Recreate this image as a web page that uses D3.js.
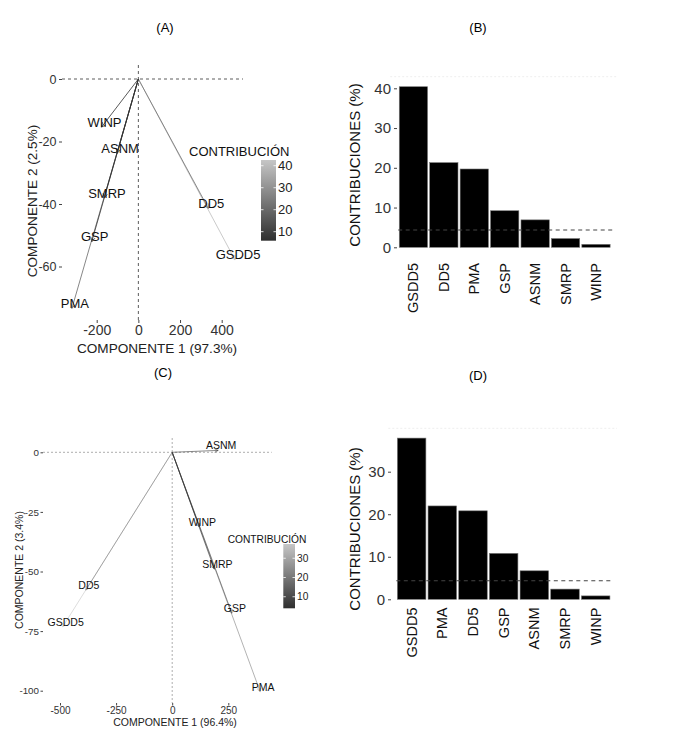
<!DOCTYPE html>
<html lang="es">
<head>
<meta charset="UTF-8">
<title>Contribuciones de variables (ACP)</title>
<script src="https://d3js.org/d3.v7.min.js"></script>
<style>
    body { margin: 0; background: #fff; }
    svg { display: block; font-family: "Liberation Sans", Arial, sans-serif; }
    .domain { display: none; }
</style>
</head>
<body>
<svg width="683" height="743"></svg>
<script>
    // ---- datos ----
    // (A) biplot de variables, primer conjunto
    const varsA = ["GSDD5", "DD5", "PMA", "GSP", "ASNM", "SMRP", "WINP"];
    const pc1A = [464, 336, -319, -224, -102, -165, -177];
    const pc2A = [-57.9, -41.4, -73.4, -52.1, -23.8, -38.1, -15.4];
    const legendA = [5.9, 42.6];
    const legendTicksA = [10, 20, 30, 40];

    // (B) contribuciones, primer conjunto
    const barVarsB = ["GSDD5", "DD5", "PMA", "GSP", "ASNM", "SMRP", "WINP"];
    const barValsB = [40.4, 21.3, 19.7, 9.2, 6.9, 2.2, 0.75];
    const expectedB = 4.35;

    // (C) biplot de variables, segundo conjunto
    const varsC = ["GSDD5", "DD5", "PMA", "GSP", "ASNM", "SMRP", "WINP"];
    const pc1C = [-488, -385, 392, 266, 205, 188, 121];
    const pc2C = [-73.2, -57.8, -100.4, -67.5, 0.8, -49, -31.3];
    const legendC = [4.0, 37.4];
    const legendTicksC = [10, 20, 30];

    // (D) contribuciones, segundo conjunto
    const barVarsD = ["GSDD5", "PMA", "DD5", "GSP", "ASNM", "SMRP", "WINP"];
    const barValsD = [37.9, 21.95, 20.8, 10.8, 6.7, 2.4, 0.8];
    const expectedD = 4.37;

    const svg = d3.select("svg");
    const plainNum = d => String(d);   // guion normal, no el signo menos unicode

    // títulos de los paneles
    [["(A)", 165, 32], ["(B)", 478, 32], ["(C)", 163, 377], ["(D)", 478, 380]].forEach(t => {
        svg.append("text").attr("x", t[1]).attr("y", t[2])
            .attr("text-anchor", "middle").attr("font-size", 13).text(t[0]);
    });

    let gradId = 0;

    function biplot(o) {
        const g = svg.append("g");
        const x = d3.scaleLinear().domain(o.xDomain).range(o.xRange);
        const y = d3.scaleLinear().domain(o.yDomain).range(o.yRange);
        const color = d3.scaleLinear().domain(o.legendDomain)
            .range(["#2f2f2f", "#c6c6c6"]).clamp(true);
        const contribOf = new Map(o.barVars.map((v, i) => [v, o.barVals[i]]));

        // líneas de referencia
        g.append("line")
            .attr("x1", o.panel.left).attr("x2", o.panel.right)
            .attr("y1", y(0)).attr("y2", y(0))
            .attr("stroke", o.refColor).attr("stroke-width", 0.8)
            .attr("stroke-dasharray", o.refDash);
        g.append("line")
            .attr("x1", x(0)).attr("x2", x(0))
            .attr("y1", o.panel.top).attr("y2", o.panel.bottom)
            .attr("stroke", o.refColor).attr("stroke-width", 0.8)
            .attr("stroke-dasharray", o.refDash);

        // ejes
        const ax = g.append("g")
            .attr("transform", `translate(0,${o.panel.bottom})`)
            .call(d3.axisBottom(x).tickValues(o.xTicks).tickFormat(plainNum)
                .tickSize(o.tick).tickPadding(o.tickPad));
        const ay = g.append("g")
            .attr("transform", `translate(${o.panel.left},0)`)
            .call(d3.axisLeft(y).tickValues(o.yTicks).tickFormat(plainNum)
                .tickSize(o.tick).tickPadding(o.tickPad));
        ax.selectAll("text").attr("font-size", o.xTickFont);
        ay.selectAll("text").attr("font-size", o.yTickFont);
        [ax, ay].forEach(a => {
            a.selectAll("text").attr("fill", "#333")
                .attr("font-family", "Liberation Sans, Arial, sans-serif");
            a.selectAll("line").attr("stroke", "#444");
        });

        // títulos de ejes
        g.append("text")
            .attr("x", o.xTitle[0]).attr("y", o.xTitle[1])
            .attr("text-anchor", "middle").attr("font-size", o.titleFont)
            .attr("fill", "#222").text(o.xLabel);
        g.append("text")
            .attr("transform", `translate(${o.yTitle[0]},${o.yTitle[1]}) rotate(-90)`)
            .attr("text-anchor", "middle").attr("font-size", o.titleFont)
            .attr("fill", "#222").text(o.yLabel);

        // flechas de las variables
        const x0 = x(0), y0 = y(0);
        o.vars.forEach((v, i) => {
            const x1 = x(o.pc1[i]), y1 = y(o.pc2[i]);
            const c = color(contribOf.get(v));
            const ang = Math.atan2(y1 - y0, x1 - x0);
            g.append("line")
                .attr("x1", x0).attr("y1", y0).attr("x2", x1).attr("y2", y1)
                .attr("stroke", c).attr("stroke-width", o.lineWidth);
            [-1, 1].forEach(s => {
                const a = ang + Math.PI + s * Math.PI / 7;
                g.append("line")
                    .attr("x1", x1).attr("y1", y1)
                    .attr("x2", x1 + o.head * Math.cos(a))
                    .attr("y2", y1 + o.head * Math.sin(a))
                    .attr("stroke", c).attr("stroke-width", o.lineWidth);
            });
            g.append("text")
                .attr("x", x1 + o.labelNudge[0]).attr("y", y1 + o.labelNudge[1])
                .attr("text-anchor", "middle").attr("font-size", o.labelFont)
                .attr("fill", "#111").text(v);
        });

        // leyenda de color
        const id = "grad" + (gradId++);
        const lg = svg.append("defs").append("linearGradient")
            .attr("id", id).attr("x1", 0).attr("x2", 0).attr("y1", 1).attr("y2", 0);
        lg.append("stop").attr("offset", "0%").attr("stop-color", color(o.legendDomain[0]));
        lg.append("stop").attr("offset", "100%").attr("stop-color", color(o.legendDomain[1]));
        const L = o.legend;
        const ly = d3.scaleLinear().domain(o.legendDomain).range([L.y + L.h, L.y]);
        g.append("text")
            .attr("x", L.titleX).attr("y", L.titleY)
            .attr("font-size", L.font).attr("fill", "#111").text("CONTRIBUCIÓN");
        g.append("rect")
            .attr("x", L.x).attr("y", L.y).attr("width", L.w).attr("height", L.h)
            .attr("fill", `url(#${id})`);
        o.legendTicks.forEach(t => {
            [L.x, L.x + L.w - 2.5].forEach(tx => {
                g.append("line")
                    .attr("x1", tx).attr("x2", tx + 2.5)
                    .attr("y1", ly(t)).attr("y2", ly(t))
                    .attr("stroke", "#fff").attr("stroke-width", 0.8);
            });
            g.append("text")
                .attr("x", L.x + L.w + 2).attr("y", ly(t))
                .attr("dy", "0.35em").attr("font-size", L.font)
                .attr("fill", "#222").text(t);
        });
    }

    function barplot(o) {
        const g = svg.append("g");
        const x = d3.scaleBand().domain(o.vars).range(o.xRange)
            .paddingInner(0.07).paddingOuter(0.035);
        const y = d3.scaleLinear().domain(o.yDomain).range(o.yRange);

        // línea tenue superior
        g.append("line")
            .attr("x1", o.xRange[0] - 8).attr("x2", o.xRange[1] + 6)
            .attr("y1", o.faintY).attr("y2", o.faintY)
            .attr("stroke", "#eeeeee").attr("stroke-width", 1)
            .attr("stroke-dasharray", "2,2");

        g.selectAll("rect.bar")
            .data(o.vals)
            .join("rect")
            .attr("class", "bar")
            .attr("x", (d, i) => x(o.vars[i]))
            .attr("width", x.bandwidth())
            .attr("y", d => y(d))
            .attr("height", d => y(0) - y(d))
            .attr("fill", "#000")
            .attr("stroke", "#777")
            .attr("stroke-width", 0.6);

        // valor esperado
        g.append("line")
            .attr("x1", o.xRange[0]).attr("x2", o.xRange[1] + 2)
            .attr("y1", y(o.expected)).attr("y2", y(o.expected))
            .attr("stroke", "#444").attr("stroke-width", 1.1)
            .attr("stroke-dasharray", "4,3.5");

        const ay = g.append("g")
            .attr("transform", `translate(${o.axisX},0)`)
            .call(d3.axisLeft(y).tickValues(o.yTicks).tickSize(3).tickPadding(3));
        ay.selectAll("text").attr("font-size", 15).attr("fill", "#333")
            .attr("font-family", "Liberation Sans, Arial, sans-serif");
        ay.selectAll("line").attr("stroke", "#444");

        o.vars.forEach(v => {
            g.append("text")
                .attr("transform", `translate(${x(v) + x.bandwidth() / 2},${o.labelTop}) rotate(-90)`)
                .attr("text-anchor", "end").attr("dy", "0.35em")
                .attr("font-size", 14.5).attr("fill", "#111").text(v);
        });

        g.append("text")
            .attr("transform", `translate(${o.yTitle[0]},${o.yTitle[1]}) rotate(-90)`)
            .attr("text-anchor", "middle").attr("dy", "0.35em")
            .attr("font-size", 15).attr("fill", "#111").text("CONTRIBUCIONES (%)");
    }

    biplot({
        vars: varsA, pc1: pc1A, pc2: pc2A, barVars: barVarsB, barVals: barValsB,
        xDomain: [-200, 400], xRange: [96.7, 221.7],
        yDomain: [0, -60], yRange: [79, 266.5],
        panel: { left: 62, right: 243, top: 65, bottom: 320 },
        xTicks: [-200, 0, 200, 400], yTicks: [0, -20, -40, -60],
        tick: 3, tickPad: 2.5, xTickFont: 14, yTickFont: 12.5, titleFont: 13.6,
        xLabel: "COMPONENTE 1 (97.3%)", yLabel: "COMPONENTE 2 (2.5%)",
        xTitle: [157, 353], yTitle: [37, 201],
        refColor: "#333", refDash: "3,3",
        lineWidth: 0.8, head: 5, labelFont: 13, labelNudge: [3, -0.5],
        legendDomain: legendA, legendTicks: legendTicksA,
        legend: { x: 261, y: 160, w: 15, h: 80.7, titleX: 189, titleY: 155.5, font: 13 }
    });

    biplot({
        vars: varsC, pc1: pc1C, pc2: pc2C, barVars: barVarsD, barVals: barValsD,
        xDomain: [-500, 250], xRange: [60, 228.3],
        yDomain: [0, -100], yRange: [452.3, 690.7],
        panel: { left: 43, right: 271.7, top: 438, bottom: 703 },
        xTicks: [-500, -250, 0, 250], yTicks: [0, -25, -50, -75, -100],
        tick: 2.5, tickPad: 1.5, xTickFont: 10, yTickFont: 9.8, titleFont: 10.5,
        xLabel: "COMPONENTE 1 (96.4%)", yLabel: "COMPONENTE 2 (3.4%)",
        xTitle: [175, 726], yTitle: [23, 570],
        refColor: "#999", refDash: "2,2",
        lineWidth: 0.6, head: 4, labelFont: 10.5, labelNudge: [3, -1],
        legendDomain: legendC, legendTicks: legendTicksC,
        legend: { x: 283.3, y: 544, w: 11.7, h: 64.3, titleX: 227.7, titleY: 543.2, font: 10.2 }
    });

    barplot({
        vars: barVarsB, vals: barValsB, expected: expectedB,
        xRange: [398.2, 611.2], yDomain: [0, 40], yRange: [247.3, 88.3],
        yTicks: [0, 10, 20, 30, 40], axisX: 397, labelTop: 263,
        yTitle: [355, 165], faintY: 76.7
    });

    barplot({
        vars: barVarsD, vals: barValsD, expected: expectedD,
        xRange: [396.3, 611], yDomain: [0, 30], yRange: [599.3, 471.7],
        yTicks: [0, 10, 20, 30], axisX: 391, labelTop: 607.5,
        yTitle: [355, 529], faintY: 428.3
    });
</script>
</body>
</html>
